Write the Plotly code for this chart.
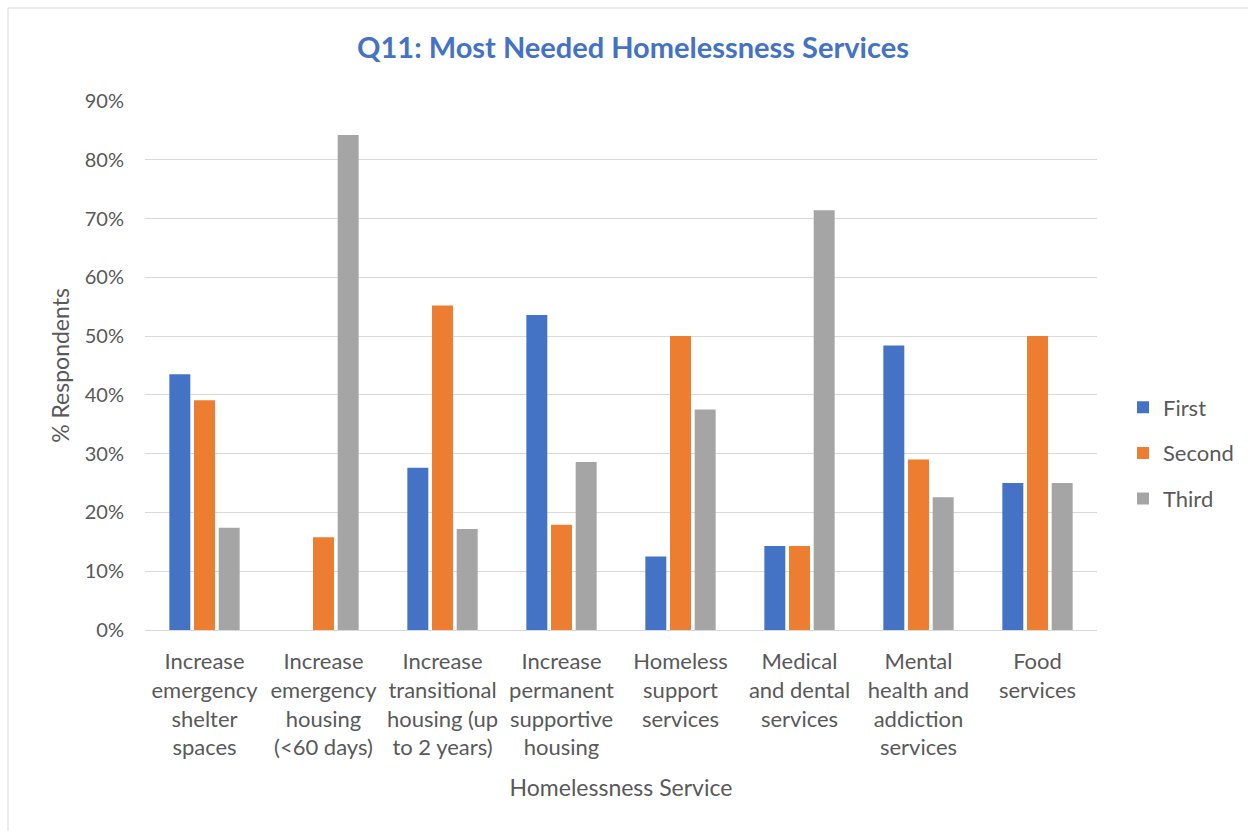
import plotly.graph_objects as go

categories = [
    "Increase<br>emergency<br>shelter<br>spaces",
    "Increase<br>emergency<br>housing<br>(<60 days)",
    "Increase<br>transitional<br>housing (up<br>to 2 years)",
    "Increase<br>permanent<br>supportive<br>housing",
    "Homeless<br>support<br>services",
    "Medical<br>and dental<br>services",
    "Mental<br>health and<br>addiction<br>services",
    "Food<br>services",
]
first = [0.435, 0.0, 0.276, 0.536, 0.125, 0.143, 0.484, 0.25]
second = [0.391, 0.158, 0.552, 0.179, 0.50, 0.143, 0.290, 0.50]
third = [0.174, 0.842, 0.172, 0.286, 0.375, 0.714, 0.226, 0.25]
series_names = ["First", "Second", "Third"]
colors = ["#4472C4", "#ED7D31", "#A5A5A5"]

FONT = "Lato, 'Open Sans', sans-serif"
GREY = "#595959"

fig = go.Figure()
for name, vals, col in zip(series_names, [first, second, third], colors):
    fig.add_trace(go.Bar(x=categories, y=vals, name=name, marker_color=col,
                         marker_line_width=0, legendgroup=name))

L, R, T, B = 145, 151, 101, 201
W, H = 1248, 831
pw, ph = W - L - R, H - T - B

fig.update_layout(
    width=W, height=H,
    margin=dict(l=L, r=R, t=T, b=B, autoexpand=False),
    paper_bgcolor="white", plot_bgcolor="white",
    barmode="group", bargap=0.378, bargroupgap=0.15,
    font=dict(family=FONT, size=21, color=GREY),
    title=dict(text="<b>Q11: Most Needed Homelessness Services</b>",
               x=633 / W, xanchor="center", y=1 - 48 / H, yanchor="middle",
               font=dict(family=FONT, size=29, color="#4472C4")),
    legend=dict(x=(1123 - L) / pw, xanchor="left", y=(630 - 453) / ph, yanchor="middle",
                font=dict(family=FONT, size=22, color=GREY),
                itemwidth=30, tracegroupgap=14, bgcolor="rgba(0,0,0,0)"),
    xaxis=dict(showgrid=False, showline=True, linecolor="#d9d9d9", linewidth=1,
               tickfont=dict(family=FONT, size=22, color=GREY),
               ticklabelstandoff=12,
               title=dict(text="Homelessness Service", standoff=20,
                          font=dict(family=FONT, size=23, color=GREY))),
    yaxis=dict(range=[0, 0.9], dtick=0.1, tickformat=".0%",
               showgrid=True, gridcolor="#d9d9d9", gridwidth=1, zeroline=False,
               tickfont=dict(family=FONT, size=20, color=GREY),
               ticklabelstandoff=20,
               title=dict(text="% Respondents", standoff=8,
                          font=dict(family=FONT, size=23, color=GREY))),
)

# outer chart border
fig.add_shape(type="rect", xref="paper", yref="paper",
              x0=(8 - L) / pw, x1=(W + 5 - L) / pw,
              y0=(630 - (H + 5)) / ph, y1=(630 - 8) / ph,
              line=dict(color="#d9d9d9", width=1), fillcolor="rgba(0,0,0,0)", layer="below")

fig.write_html("out.html", config={"displayModeBar": False},
               post_script="document.body.style.margin='0';document.body.style.overflow='hidden';")
